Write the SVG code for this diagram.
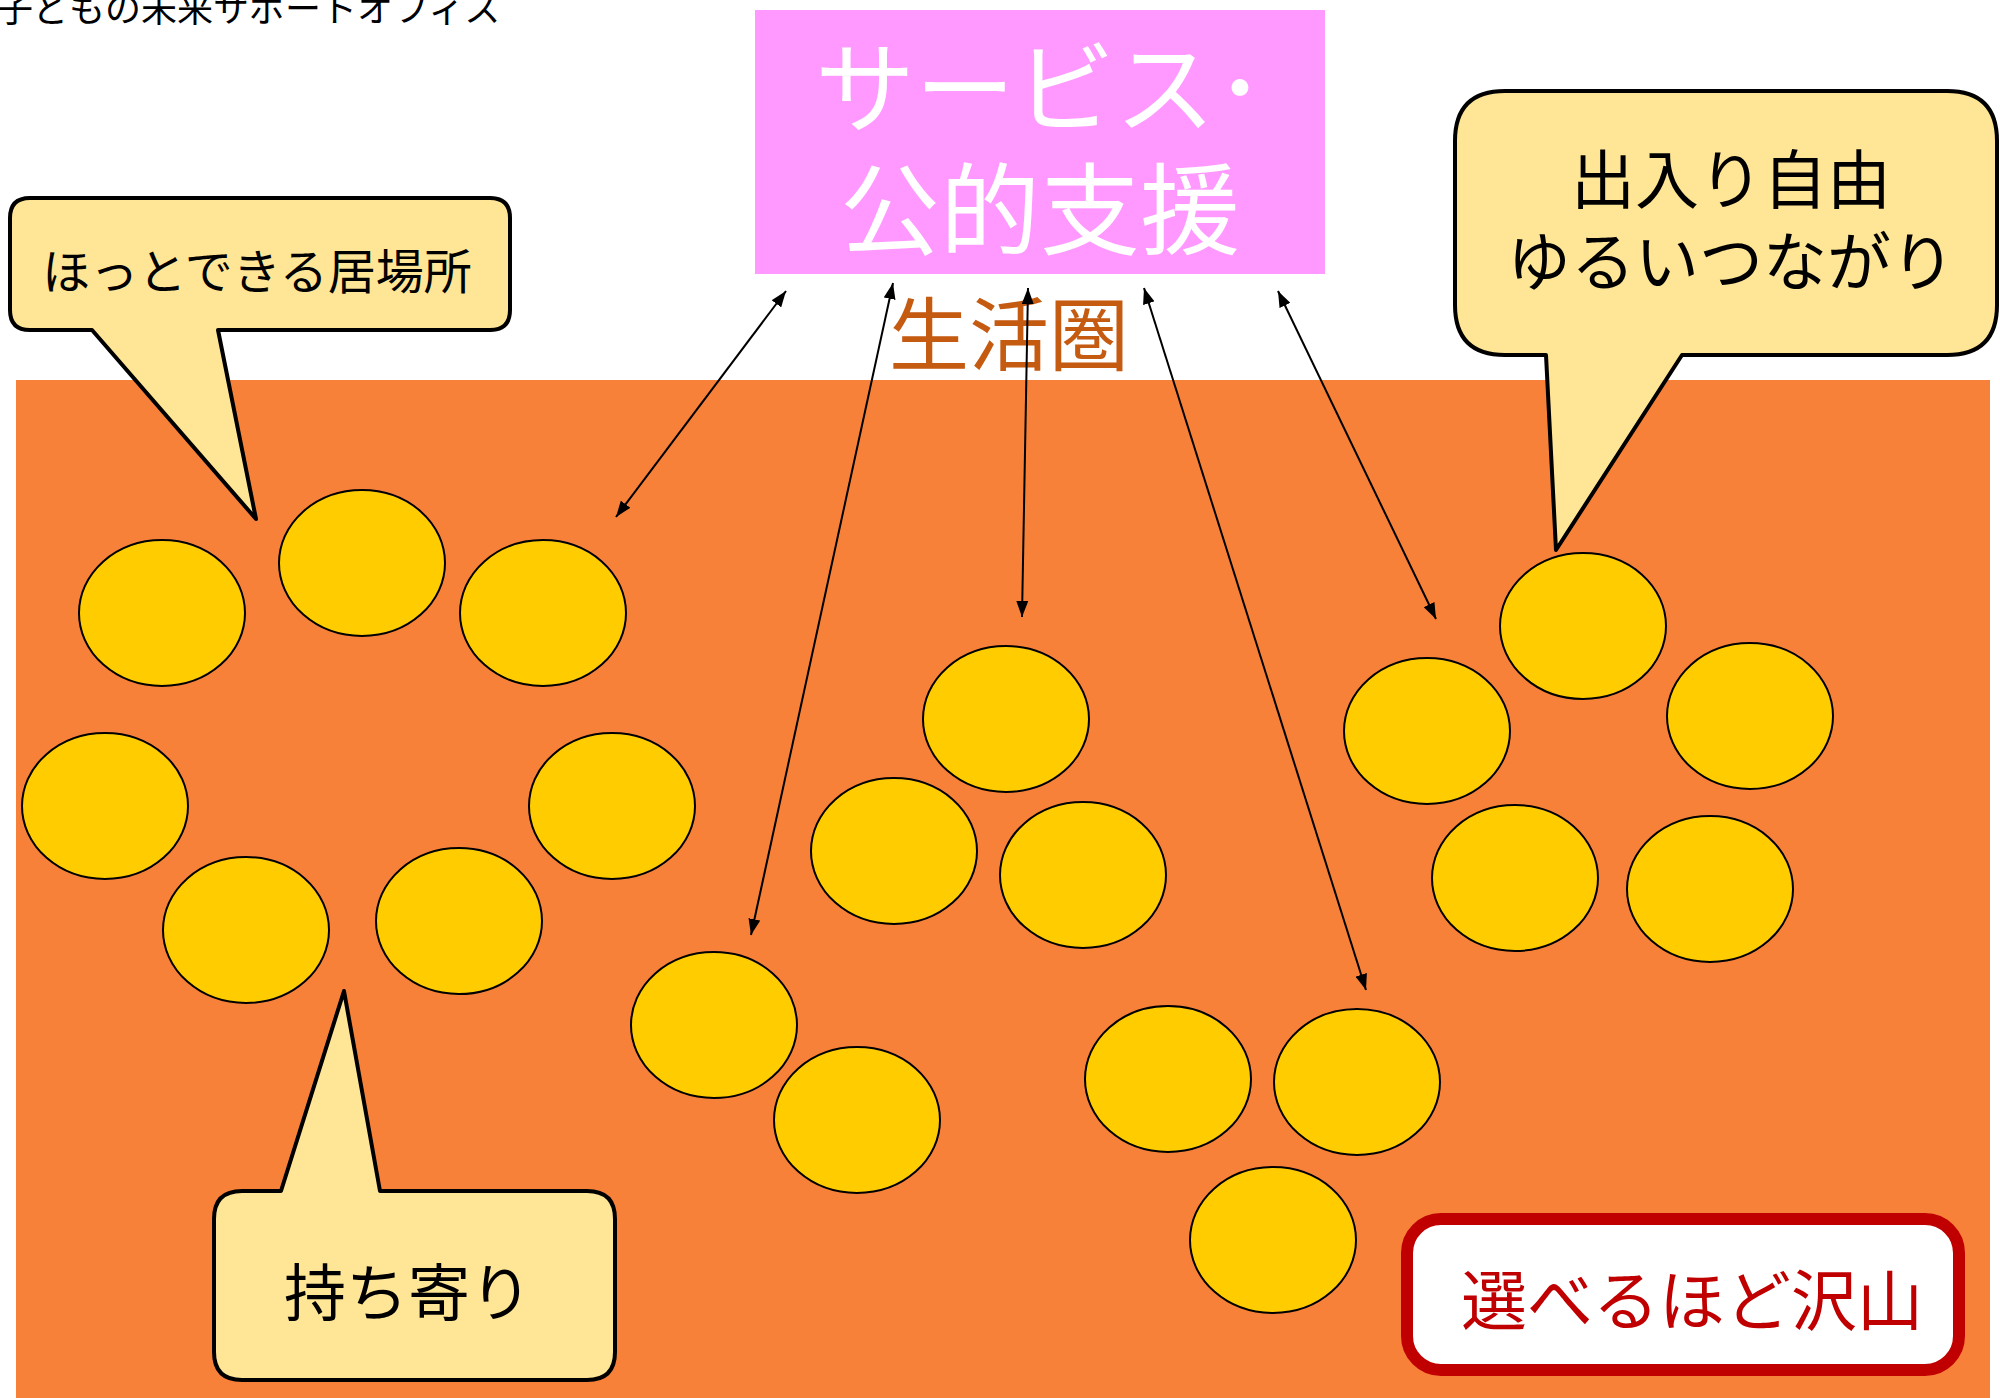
<svg xmlns="http://www.w3.org/2000/svg" width="2000" height="1398" viewBox="0 0 2000 1398">
<style>
text{font-family:"Noto Sans CJK JP","Noto Sans CJK SC",sans-serif}
.dot{fill:#FFCC00;stroke:#000;stroke-width:2}
.call{fill:#FFE596;stroke:#000;stroke-width:4;stroke-linejoin:round}
.lbl{fill:#000;text-anchor:middle}
.con{stroke:#000;stroke-width:2;fill:none;marker-start:url(#ah);marker-end:url(#ah)}
</style>
<defs>
<marker id="ah" viewBox="0 0 10 10" refX="10" refY="5" markerWidth="16" markerHeight="12" markerUnits="userSpaceOnUse" orient="auto-start-reverse" preserveAspectRatio="none">
<path d="M0,0 L10,5 L0,10 Z" fill="#000"/>
</marker>
</defs>
<rect width="2000" height="1398" fill="#fff"/>
<text x="-3" y="22" font-size="36" fill="#000">子どもの未来サポートオフィス</text>
<g id="area"><rect x="16" y="380" width="1974" height="1018" fill="#F8813A"/></g>
<g id="support">
<rect x="755" y="10" width="570" height="264" fill="#FF99FF"/>
<text x="1040" y="125" font-size="100" fill="#fff" text-anchor="middle">サービス･</text>
<text x="1040" y="247" font-size="100" fill="#fff" text-anchor="middle">公的支援</text>
</g>
<g id="seikatsuken"><text x="1009" y="364" font-size="80" fill="#C55A11" text-anchor="middle">生活圏</text></g>
<g id="dots">
<ellipse class="dot" cx="162" cy="613" rx="83" ry="73"/>
<ellipse class="dot" cx="362" cy="563" rx="83" ry="73"/>
<ellipse class="dot" cx="543" cy="613" rx="83" ry="73"/>
<ellipse class="dot" cx="105" cy="806" rx="83" ry="73"/>
<ellipse class="dot" cx="612" cy="806" rx="83" ry="73"/>
<ellipse class="dot" cx="246" cy="930" rx="83" ry="73"/>
<ellipse class="dot" cx="459" cy="921" rx="83" ry="73"/>
<ellipse class="dot" cx="1006" cy="719" rx="83" ry="73"/>
<ellipse class="dot" cx="894" cy="851" rx="83" ry="73"/>
<ellipse class="dot" cx="1083" cy="875" rx="83" ry="73"/>
<ellipse class="dot" cx="714" cy="1025" rx="83" ry="73"/>
<ellipse class="dot" cx="857" cy="1120" rx="83" ry="73"/>
<ellipse class="dot" cx="1168" cy="1079" rx="83" ry="73"/>
<ellipse class="dot" cx="1357" cy="1082" rx="83" ry="73"/>
<ellipse class="dot" cx="1273" cy="1240" rx="83" ry="73"/>
<ellipse class="dot" cx="1583" cy="626" rx="83" ry="73"/>
<ellipse class="dot" cx="1427" cy="731" rx="83" ry="73"/>
<ellipse class="dot" cx="1750" cy="716" rx="83" ry="73"/>
<ellipse class="dot" cx="1515" cy="878" rx="83" ry="73"/>
<ellipse class="dot" cx="1710" cy="889" rx="83" ry="73"/>
</g>
<g id="connectors">
<line class="con" x1="786" y1="291" x2="616" y2="517"/>
<line class="con" x1="893" y1="283" x2="751" y2="935"/>
<line class="con" x1="1028" y1="288" x2="1022" y2="617"/>
<line class="con" x1="1144" y1="288" x2="1366" y2="990"/>
<line class="con" x1="1278" y1="291" x2="1436" y2="619"/>
</g>
<g id="callout-ibasho">
<path class="call" d="M30,198 H490 Q510,198 510,218 V310 Q510,330 490,330 H218 L256,519 L92,330 H30 Q10,330 10,310 V218 Q10,198 30,198 Z"/>
<text class="lbl" x="257" y="289" font-size="48">ほっとできる居場所</text>
</g>
<g id="callout-free">
<path class="call" d="M1505,91 H1947 Q1997,91 1997,141 V305 Q1997,355 1947,355 H1682 L1556,550 L1546,355 H1505 Q1455,355 1455,305 V141 Q1455,91 1505,91 Z"/>
<text class="lbl" x="1731" y="203" font-size="64">出入り自由</text>
<text class="lbl" x="1731" y="285" font-size="64">ゆるいつながり</text>
</g>
<g id="callout-mochiyori">
<path class="call" d="M242,1191 H281 L344,991 L380,1191 H587 Q615,1191 615,1219 V1352 Q615,1380 587,1380 H242 Q214,1380 214,1352 V1219 Q214,1191 242,1191 Z"/>
<text class="lbl" x="408" y="1316" font-size="62">持ち寄り</text>
</g>
<g id="choice">
<rect x="1407" y="1219" width="552" height="151" rx="34" ry="34" fill="#fff" stroke="#C00000" stroke-width="12"/>
<text x="1692" y="1325" font-size="66" fill="#C00000" text-anchor="middle">選べるほど沢山</text>
</g>
</svg>
